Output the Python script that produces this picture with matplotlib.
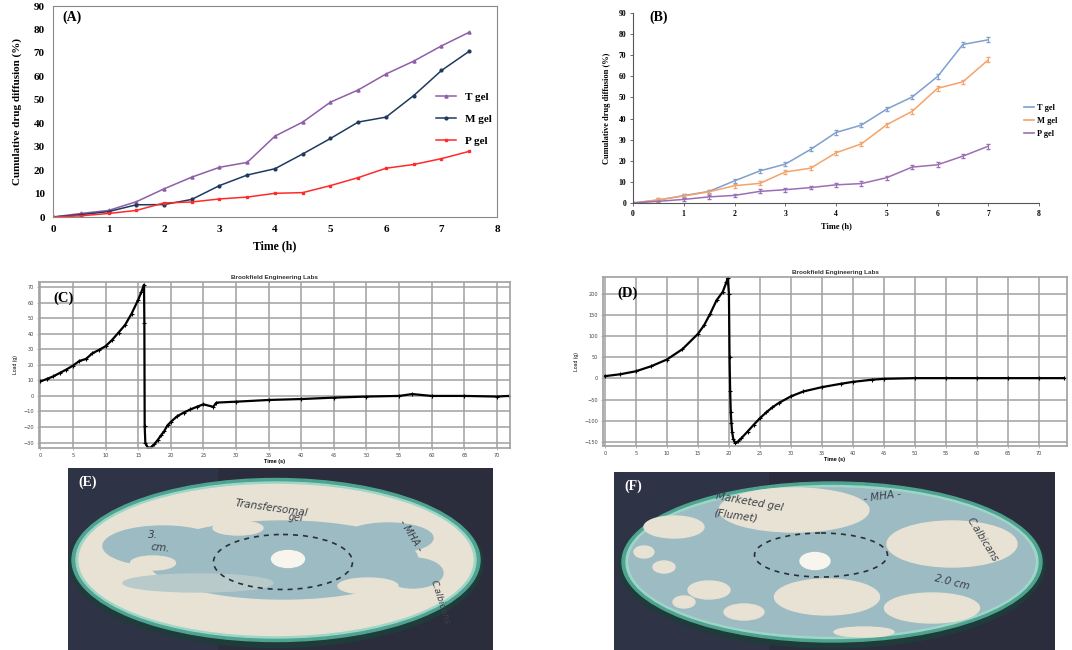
import matplotlib
matplotlib.use("Agg")
import matplotlib.pyplot as plt
from matplotlib.patches import Ellipse, Rectangle
from matplotlib.lines import Line2D

# ---- data ----
time_a = [0, 0.5, 1, 1.5, 2, 2.5, 3, 3.5, 4, 4.5, 5, 5.5, 6, 6.5, 7, 7.5]
t_gel_a = [0, 1.5, 2.8, 6.5, 12, 17, 21.2, 23.3, 34.5, 40.5, 49, 54.2, 61, 66.5, 73, 78.8]
m_gel_a = [0, 1.0, 2.3, 5.2, 5.3, 7.5, 13.4, 17.9, 20.6, 26.9, 33.5, 40.5, 42.6, 51.8, 62.5, 70.7]
p_gel_a = [0, 0.5, 1.5, 2.8, 6.0, 6.4, 7.7, 8.5, 10.1, 10.4, 13.4, 16.8, 20.8, 22.4, 24.9, 28.0]

time_b = [0, 0.5, 1, 1.5, 2, 2.5, 3, 3.5, 4, 4.5, 5, 5.5, 6, 6.5, 7]
t_gel_b = [0, 1.4, 3.5, 5.5, 10.5, 15.2, 18.4, 25.4, 33.4, 36.9, 44.5, 50.2, 59.9, 75.1, 77.3]
m_gel_b = [0, 1.5, 3.3, 5.3, 8.2, 9.3, 14.7, 16.5, 23.8, 28.0, 37.1, 43.4, 54.3, 57.4, 67.8]
p_gel_b = [0, 0.8, 1.7, 2.9, 3.6, 5.5, 6.3, 7.3, 8.6, 9.2, 12.0, 17.0, 18.1, 22.2, 26.9]
err_b = [0.3, 0.8, 0.8, 0.8, 0.9, 0.9, 0.9, 0.9, 1.0, 1.0, 1.0, 1.1, 1.1, 1.1, 1.2]

time_c = [0, 1, 2, 3, 4, 5, 6, 7, 8, 9, 10, 11, 12, 13, 14, 15, 15.5, 15.9,
          15.95, 16.0, 16.1, 16.5, 17, 17.5, 18, 18.5, 19, 19.5, 20, 21, 22, 23,
          24, 25, 26.5, 27, 30, 35, 40, 45, 50, 55, 57, 60, 65, 70, 71.8]
load_c = [9.3, 10.9, 12.6, 14.8, 17, 19.5, 22.5, 23.8, 27.5, 29.6, 32, 36, 40.8,
          45.7, 53, 61.8, 67, 71.5, 47, -19.6, -30.2, -33.5, -33, -31, -28.3,
          -25.4, -22.6, -18.9, -16.7, -13, -10.7, -8.7, -7, -5.4, -7, -4.3,
          -3.7, -2.6, -2, -1.1, -0.4, 0, 1.2, 0, 0, -0.4, 0]

time_d = [0, 2.5, 5, 7.5, 10, 12.5, 15, 16, 17, 18, 19, 19.6, 19.8, 20.0, 20.1,
          20.2, 20.3, 20.4, 20.5, 20.7, 21, 21.5, 22, 23, 24, 25, 26, 27, 28,
          30, 32, 35, 38, 40, 43, 45, 50, 55, 60, 65, 70, 74]
load_d = [5.5, 10, 17, 29, 44.7, 69, 105, 125.5, 153, 184, 204, 227, 237, 200,
          50, -30, -80, -105, -125, -142, -152, -148, -140.6, -125, -109, -93.5,
          -80, -68, -58, -42, -30.6, -20.4, -12.6, -7.9, -3, -0.8, 0.8, 0.8,
          0.8, 0.8, 0.8, 0.8]

W, H = 1072, 650
fig = plt.figure(figsize=(W / 100, H / 100), dpi=100)


def rect(l, t, r, b):
    return [l / W, 1 - b / H, (r - l) / W, (b - t) / H]


serif = "Liberation Serif"
sans = "Liberation Sans"

# ---- (A) ----
ax = fig.add_axes(rect(53, 6, 497, 217))
ax.plot(time_a, t_gel_a, color="#8E5EA8", marker="^", ms=2.2, lw=1.1, label="T gel")
ax.plot(time_a, m_gel_a, color="#1F3A5F", marker="o", ms=2.0, lw=1.1, label="M gel")
ax.plot(time_a, p_gel_a, color="#FF2A2A", marker="s", ms=2.0, lw=1.1, label="P gel")
ax.set_xlim(0, 8)
ax.set_ylim(0, 90)
ax.set_xticks(range(0, 9))
ax.set_yticks(range(0, 91, 10))
for s in ax.spines.values():
    s.set_color("#8a8a8a")
ax.tick_params(length=0, pad=6)
for lab in ax.get_xticklabels() + ax.get_yticklabels():
    lab.set_fontfamily(serif)
    lab.set_fontweight("bold")
    lab.set_fontsize(8)
ax.set_xlabel("Time (h)", fontfamily=serif, fontweight="bold", fontsize=8.5, labelpad=4)
ax.set_ylabel("Cumulative drug diffusion (%)", fontfamily=serif, fontweight="bold",
              fontsize=8, labelpad=8)
ax.text(0.02, 0.93, "(A)", transform=ax.transAxes, fontfamily=serif,
        fontweight="bold", fontsize=10)
ax.legend(loc="upper left", bbox_to_anchor=(0.84, 0.64), frameon=False,
          labelspacing=1.1, handlelength=1.8,
          prop={"family": serif, "weight": "bold", "size": 8})

# ---- (B) ----
bx = fig.add_axes(rect(633, 13, 1039, 203))
b_colors = ["#7F9FCF", "#F4A36A", "#9A6FB5"]
for ys, col in zip([t_gel_b, m_gel_b, p_gel_b], b_colors):
    bx.errorbar(time_b, ys, yerr=err_b, color=col, lw=1.1, capsize=1.5,
                elinewidth=0.7)
bx.set_xlim(0, 8)
bx.set_ylim(0, 90)
bx.set_xticks(range(0, 9))
bx.set_yticks(range(0, 91, 10))
bx.spines["top"].set_visible(False)
bx.spines["right"].set_visible(False)
for s in ("left", "bottom"):
    bx.spines[s].set_color("#555555")
bx.tick_params(length=2, width=0.6, pad=3, color="#555555")
for lab in bx.get_xticklabels() + bx.get_yticklabels():
    lab.set_fontfamily(serif)
    lab.set_fontweight("bold")
    lab.set_fontsize(5.5)
bx.set_xlabel("Time (h)", fontfamily=serif, fontweight="bold", fontsize=6, labelpad=3)
bx.set_ylabel("Cumulative drug diffusion (%)", fontfamily=serif, fontweight="bold",
              fontsize=6, labelpad=5)
bx.text(0.04, 0.96, "(B)", transform=bx.transAxes, fontfamily=serif,
        fontweight="bold", fontsize=10)
handles = [Line2D([], [], color=c, lw=1.2) for c in b_colors]
bx.legend(handles, ["T gel", "M gel", "P gel"], loc="upper left",
          bbox_to_anchor=(0.955, 0.54), frameon=False,
          labelspacing=0.6, handlelength=1.2, handletextpad=0.3, borderaxespad=0,
          prop={"family": serif, "weight": "bold", "size": 6})


# ---- (C) and (D) texture analyser ----
def brookfield(axx, t, load, xlim, ylim, yt, tag):
    axx.plot(t, load, color="black", lw=1.6, marker="+", ms=2.5, mew=0.8)
    axx.set_xlim(*xlim)
    axx.set_ylim(*ylim)
    axx.set_xticks(range(0, 71, 5))
    axx.set_yticks(yt)
    axx.grid(True, color="#a0a0a0", lw=1.1)
    axx.set_axisbelow(True)
    for s in axx.spines.values():
        s.set_color("#a0a0a0")
        s.set_linewidth(1.2)
    axx.tick_params(length=1.5, width=0.5, pad=2, labelsize=3.6, labelcolor="#444444",
                    color="#999999")
    axx.set_title("Brookfield Engineering Labs", fontsize=4.6, fontweight="bold",
                  fontfamily=sans, pad=2, color="#333333")
    axx.set_xlabel("Time (s)", fontsize=4, fontweight="bold", fontfamily=sans, labelpad=1)
    axx.set_ylabel("Load (g)", fontsize=3.6, fontfamily=sans, labelpad=4)
    axx.text(0.03, 0.88, tag, transform=axx.transAxes, fontfamily=serif,
             fontweight="bold", fontsize=10.5)


cx = fig.add_axes(rect(39, 282, 510, 448))
brookfield(cx, time_c, load_c, (-0.2, 72), (-33.5, 73.3), range(-30, 71, 10), "(C)")
dx = fig.add_axes(rect(603, 277, 1067, 446))
brookfield(dx, time_d, load_d, (-0.3, 74.5), (-159, 239), range(-150, 201, 50), "(D)")


# ---- (E) and (F) plate photographs, drawn ----
def plate(axx, pw, ph, cx_, cy_, w, h, agar, spots, dash, blob, writing, tag):
    axx.set_xlim(0, pw)
    axx.set_ylim(ph, 0)
    axx.axis("off")
    axx.add_patch(Rectangle((0, 0), pw, ph, color="#2B2C3C"))
    axx.add_patch(Rectangle((0, 0), pw * 0.35, ph, color="#33394D", alpha=0.6))
    axx.add_patch(Ellipse((cx_, cy_ + 3), w + 6, h + 6, color="#1F3B3A"))
    axx.add_patch(Ellipse((cx_, cy_), w, h, color="#4FA390"))
    axx.add_patch(Ellipse((cx_, cy_), w - 8, h - 7, color="#9ED6C8"))
    axx.add_patch(Ellipse((cx_, cy_), w - 14, h - 12, color=agar))
    for (sx, sy, sw, sh, sc) in spots:
        axx.add_patch(Ellipse((sx, sy), sw, sh, color=sc))
    axx.add_patch(Ellipse(dash[:2], dash[2], dash[3], fill=False, ec="#2A3035",
                          ls=(0, (3, 3)), lw=1.2))
    axx.add_patch(Ellipse(blob[:2], blob[2], blob[3], color="#F7F5EE"))
    for (tx, ty, txt, rot, fs) in writing:
        axx.text(tx, ty, txt, rotation=rot, fontsize=fs, color="#3A3F48",
                 fontfamily="DejaVu Sans", style="italic", ha="center", va="center")
    axx.text(10, 14, tag, color="white", fontfamily=serif, fontweight="bold",
             fontsize=10, va="center")


blue = "#9DBBC2"
cream = "#E8E2D4"
ex = fig.add_axes(rect(68, 468, 493, 650))
plate(ex, 425, 182, 208, 92, 408, 163, cream,
      [(215, 92, 270, 78, blue), (95, 78, 120, 40, blue), (320, 70, 90, 30, blue),
       (130, 115, 150, 18, "#B9CACB"), (345, 105, 60, 30, blue),
       (170, 60, 50, 14, cream), (300, 118, 60, 16, cream), (85, 95, 45, 14, cream)],
      (215, 94, 139, 55), (220, 91, 33, 17),
      [(203, 40, "Transfersomal", -8, 7.5), (228, 50, "gel", -6, 7),
       (343, 68, "- MHA -", -58, 7), (372, 134, "C.albicans", -72, 6.5),
       (85, 67, "3.", 0, 7.5), (92, 80, "cm.", -5, 7.5)], "(E)")

fx = fig.add_axes(rect(614, 472, 1055, 650))
plate(fx, 441, 178, 218, 90, 420, 160, blue,
      [(180, 38, 150, 44, cream), (338, 72, 130, 46, cream), (318, 136, 95, 30, cream),
       (213, 125, 105, 36, cream), (60, 55, 60, 22, cream), (95, 118, 42, 18, cream),
       (50, 95, 22, 12, cream), (130, 140, 40, 16, cream), (250, 160, 60, 10, cream),
       (70, 130, 22, 12, cream), (30, 80, 20, 12, cream)],
      (207, 83, 133, 44), (201, 89, 30, 17),
      [(135, 30, "Marketed gel", -10, 7.5), (122, 44, "(Flumet)", -8, 7.5),
       (268, 24, "- MHA -", 8, 7.5), (368, 68, "C.albicans", -58, 7),
       (338, 110, "2.0 cm", -14, 7.5)], "(F)")

fig.savefig("out.png", dpi=100)
